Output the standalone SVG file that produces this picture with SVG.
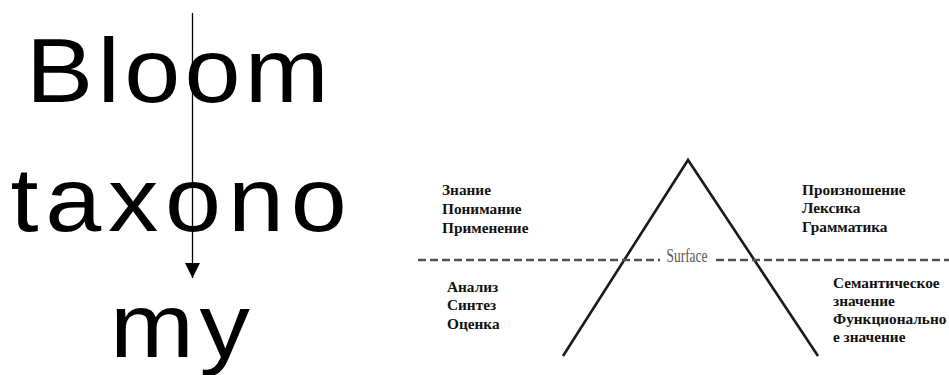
<svg xmlns="http://www.w3.org/2000/svg" width="949" height="375" viewBox="0 0 949 375">
<style>
.big{font-family:"Liberation Sans",Arial,sans-serif;font-size:90px;fill:#000}
.lbl{font-family:"Liberation Serif","Times New Roman",serif;font-weight:bold;font-size:15.3px;fill:#111}
.dash{stroke:#505050;stroke-width:2.6;stroke-dasharray:8 4;fill:none}
.tri{stroke:#1a1a1a;stroke-width:2.6;fill:none;stroke-linejoin:miter}
</style>
<defs>
<marker id="ah" markerWidth="16" markerHeight="16" refX="15" refY="8" orient="auto" markerUnits="userSpaceOnUse">
<path d="M0,0.5 L15,8 L0,15.5 Z" fill="#000"/>
</marker>
</defs>
<g id="title">
<text class="big" transform="translate(26,102) scale(1.12,1)" letter-spacing="3.8">Bloom</text>
<text class="big" transform="translate(10.5,231) scale(1.12,1)" letter-spacing="6">taxono</text>
<text class="big" transform="translate(110,357) scale(1.12,1)" letter-spacing="5">my</text>
</g>
<g id="connectors">
<line x1="192.5" y1="13" x2="192.5" y2="278" stroke="#000" stroke-width="1.3" marker-end="url(#ah)"/>
</g>
<g id="iceberg">
<polyline class="tri" points="563,356 688,160 818,356"/>
<line class="dash" x1="418" y1="260" x2="660" y2="260"/>
<line class="dash" x1="716" y1="260" x2="949" y2="260"/>
<text x="687" y="262" font-family="Liberation Serif,serif" font-size="19" fill="#5a5a5a" text-anchor="middle" textLength="41" lengthAdjust="spacingAndGlyphs">Surface</text>
</g>
<g id="left-top">
<text class="lbl" x="442" y="195">Знание</text>
<text class="lbl" x="442" y="214">Понимание</text>
<text class="lbl" x="442" y="233">Применение</text>
</g>
<g id="left-bottom">
<text class="lbl" x="447" y="292">Анализ</text>
<text class="lbl" x="447" y="310">Синтез</text>
<text class="lbl" x="447" y="329">Оценка</text>
</g>
<g id="right-top">
<text class="lbl" x="802" y="195">Произношение</text>
<text class="lbl" x="802" y="213">Лексика</text>
<text class="lbl" x="802" y="232">Грамматика</text>
</g>
<g id="right-bottom">
<text class="lbl" x="833" y="288">Семантическое</text>
<text class="lbl" x="833" y="306">значение</text>
<text class="lbl" x="833" y="324">Функционально</text>
<text class="lbl" x="833" y="342">е значение</text>
</g>
</svg>
